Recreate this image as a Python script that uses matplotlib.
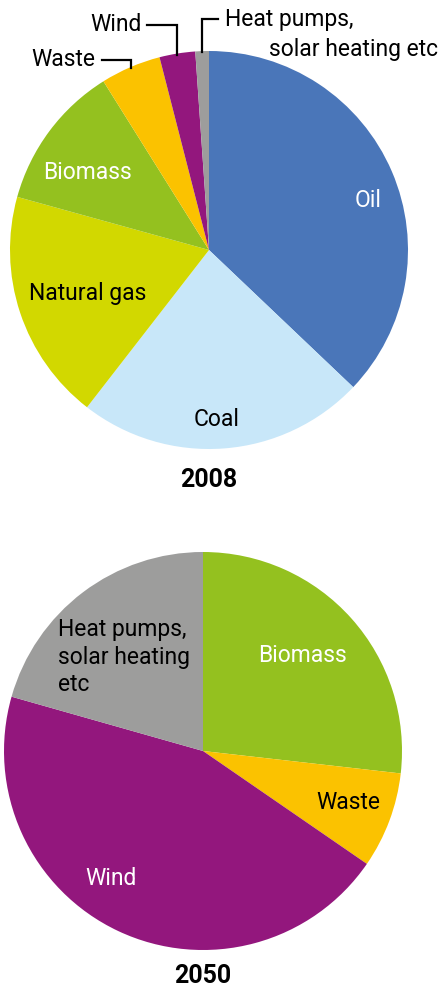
import numpy as np
import matplotlib.pyplot as plt

plt.rcParams['font.family'] = ['Roboto', 'DejaVu Sans']

# energy supply shares, %
labels_2008 = ["Oil", "Coal", "Natural gas", "Biomass", "Waste", "Wind",
               "Heat pumps, solar heating etc"]
shares_2008 = [37.1, 23.4, 18.8, 11.8, 4.9, 2.9, 1.1]

labels_2050 = ["Biomass", "Waste", "Wind", "Heat pumps, solar heating etc"]
shares_2050 = [26.8, 7.8, 44.8, 20.6]

colours = {
    "Oil": "#4a76b9",
    "Coal": "#c8e7f9",
    "Natural gas": "#d2d800",
    "Biomass": "#94c11f",
    "Waste": "#fbc200",
    "Wind": "#93177d",
    "Heat pumps, solar heating etc": "#9d9d9c",
}

W, H = 442, 991
fig = plt.figure(figsize=(W / 100, H / 100), dpi=100)


def pie_axes(cx, cy, r):
    ax = fig.add_axes([(cx - r) / W, (H - cy - r) / H, 2 * r / W, 2 * r / H])
    return ax


def draw_pie(ax, labels, shares):
    wedges, _ = ax.pie(shares, colors=[colours[l] for l in labels],
                       startangle=90, counterclock=False, radius=1.0,
                       wedgeprops=dict(linewidth=0))
    # pie() pads the limits; keep the disc filling the axes
    ax.set_xlim(-1, 1)
    ax.set_ylim(-1, 1)
    ax.axis("off")
    return dict(zip(labels, wedges))


FS = 16.5
FS_YEAR = 18

# --- 2008 ---
ax1 = pie_axes(209, 250, 199)
w1 = draw_pie(ax1, labels_2008, shares_2008)
ax1.text(0.80, 0.25, "Oil", color="white", fontsize=FS, ha="center", va="center")
ax1.text(0.04, -0.85, "Coal", color="black", fontsize=FS, ha="center", va="center")
ax1.text(-0.61, -0.22, "Natural gas", color="black", fontsize=FS, ha="center", va="center")
ax1.text(-0.61, 0.39, "Biomass", color="white", fontsize=FS, ha="center", va="center")


def leader(ax, wedge, y_label, x_end):
    mid = np.deg2rad((wedge.theta1 + wedge.theta2) / 2)
    x0, y0 = np.cos(mid) * 0.995, np.sin(mid) * 0.995
    ax.plot([x0, x0, x_end], [y0, y_label, y_label], color="black",
            lw=1.6, clip_on=False, solid_joinstyle="miter")


leader(ax1, w1["Waste"], 0.955, -0.54)
ax1.text(-0.57, 0.955, "Waste", fontsize=FS, ha="right", va="center")
leader(ax1, w1["Wind"], 1.132, -0.31)
ax1.text(-0.34, 1.132, "Wind", fontsize=FS, ha="right", va="center")
leader(ax1, w1["Heat pumps, solar heating etc"], 1.16, 0.045)
ax1.text(0.08, 1.16, "Heat pumps,", fontsize=FS, ha="left", va="center")
ax1.text(1.15, 1.01, "solar heating etc", fontsize=FS, ha="right", va="center")

ax1.text(0.0, -1.155, "2008", fontsize=FS_YEAR, fontweight="bold", ha="center", va="center")

# --- 2050 ---
ax2 = pie_axes(203, 751, 199)
draw_pie(ax2, labels_2050, shares_2050)
ax2.text(0.50, 0.48, "Biomass", color="white", fontsize=FS, ha="center", va="center")
ax2.text(0.73, -0.26, "Waste", color="black", fontsize=FS, ha="center", va="center")
ax2.text(-0.46, -0.64, "Wind", color="white", fontsize=FS, ha="center", va="center")
ax2.text(-0.73, 0.47, "Heat pumps,\nsolar heating\netc", fontsize=FS,
         ha="left", va="center", linespacing=1.25)

ax2.text(0.0, -1.13, "2050", fontsize=FS_YEAR, fontweight="bold", ha="center", va="center")

fig.savefig("out.png", dpi=100)
